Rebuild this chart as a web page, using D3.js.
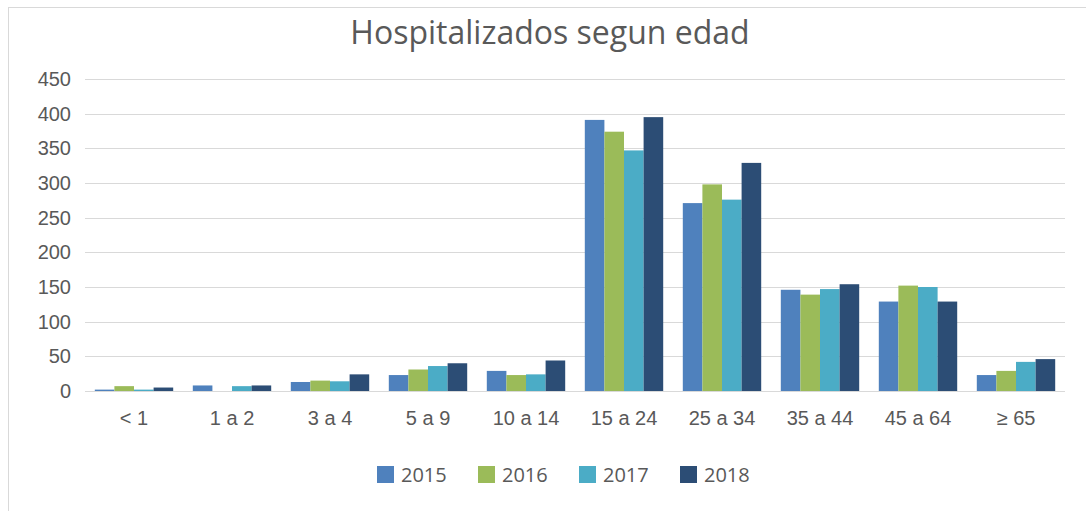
<!DOCTYPE html>
<html>
<head>
<meta charset="utf-8">
<script src="https://cdn.jsdelivr.net/npm/d3@7"></script>
<style>
  body { margin: 0; background: #fff; }
  svg { display: block; font-family: 'Open Sans', sans-serif; }
  .grid line { stroke: #d9d9d9; stroke-width: 1.2px; }
  .tick-label { fill: #595959; font-size: 20px; }
</style>
</head>
<body>
<div id="chart"></div>
<script>
// data
const categories = ['< 1', '1 a 2', '3 a 4', '5 a 9', '10 a 14', '15 a 24', '25 a 34', '35 a 44', '45 a 64', '≥ 65']
const years = ['2015', '2016', '2017', '2018']
const v2015 = [2, 8, 13, 23, 29, 391, 271, 146, 129, 23]
const v2016 = [7, 0, 15, 31, 23, 374, 298, 139, 152, 29]
const v2017 = [2, 7, 14, 36, 24, 347, 276, 147, 150, 42]
const v2018 = [5, 8, 24, 40, 44, 395, 329, 154, 129, 46]
const yTicks = [0, 50, 100, 150, 200, 250, 300, 350, 400, 450]
const colors = ['#4f81bd', '#9bbb59', '#4bacc6', '#2c4d75']

const WIDTH = 1086
const HEIGHT = 511
const MARGINS = { top: 79, right: 21, bottom: 120, left: 85 }

const series = [v2015, v2016, v2017, v2018]

const svg = d3.select('#chart')
  .append('svg')
    .attr('width', WIDTH)
    .attr('height', HEIGHT)

// chart area frame (only top/left edges fall inside the picture)
svg.append('rect')
  .attr('x', 8.5)
  .attr('y', 7.5)
  .attr('width', WIDTH + 20)
  .attr('height', HEIGHT + 20)
  .attr('fill', '#fff')
  .attr('stroke', '#d9d9d9')

svg.append('text')
  .attr('x', 550)
  .attr('y', 44)
  .attr('text-anchor', 'middle')
  .attr('fill', '#595959')
  .style('font-size', '32px')
  .text('Hospitalizados segun edad')

const x = d3.scaleBand()
  .domain(categories)
  .range([MARGINS.left, WIDTH - MARGINS.right])
  .paddingInner(0.2)
  .paddingOuter(0.1)

const xInner = d3.scaleBand()
  .domain(years)
  .range([0, x.bandwidth()])

const y = d3.scaleLinear()
  .domain([0, 450])
  .range([HEIGHT - MARGINS.bottom, MARGINS.top])

// gridlines
svg.append('g')
    .attr('class', 'grid')
  .selectAll('line')
  .data(yTicks)
  .enter().append('line')
    .attr('x1', MARGINS.left)
    .attr('x2', WIDTH - MARGINS.right)
    .attr('y1', (d) => Math.round(y(d)) + 0.5)
    .attr('y2', (d) => Math.round(y(d)) + 0.5)

// y axis labels
const yAxis = d3.axisLeft(y)
  .tickValues(yTicks)
  .tickSize(0)
  .tickPadding(14)

svg.append('g')
    .attr('transform', 'translate(' + MARGINS.left + ',0)')
    .call(yAxis)
    .call((g) => g.select('.domain').remove())
    .call((g) => g.selectAll('text')
      .attr('class', 'tick-label')
      .attr('font-family', null)
      .attr('font-size', null))

// x axis labels
const xAxis = d3.axisBottom(x)
  .tickSize(0)
  .tickPadding(20)

svg.append('g')
    .attr('transform', 'translate(0,' + (HEIGHT - MARGINS.bottom) + ')')
    .call(xAxis)
    .call((g) => g.select('.domain').remove())
    .call((g) => g.selectAll('text')
      .attr('class', 'tick-label')
      .attr('font-family', null)
      .attr('font-size', null))

// bars
const groups = svg.append('g')
  .selectAll('.group')
  .data(categories)
  .enter().append('g')
    .attr('class', 'group')
    .attr('transform', (d) => 'translate(' + x(d) + ',0)')

groups.selectAll('rect')
  .data((d, i) => years.map((yr, j) => ({ year: yr, value: series[j][i], color: colors[j] })))
  .enter().append('rect')
    .attr('x', (d) => xInner(d.year))
    .attr('width', xInner.bandwidth())
    .attr('y', (d) => y(d.value))
    .attr('height', (d) => y(0) - y(d.value))
    .attr('fill', (d) => d.color)

// legend
const legend = svg.append('g')
  .attr('transform', 'translate(377,466)')

const items = legend.selectAll('.item')
  .data(years)
  .enter().append('g')
    .attr('class', 'item')
    .attr('transform', (d, i) => 'translate(' + (i * 101) + ',0)')

items.append('rect')
  .attr('width', 17)
  .attr('height', 17)
  .attr('fill', (d, i) => colors[i])

items.append('text')
  .attr('class', 'tick-label')
  .attr('x', 24)
  .attr('y', 16)
  .text((d) => d)
</script>
</body>
</html>
